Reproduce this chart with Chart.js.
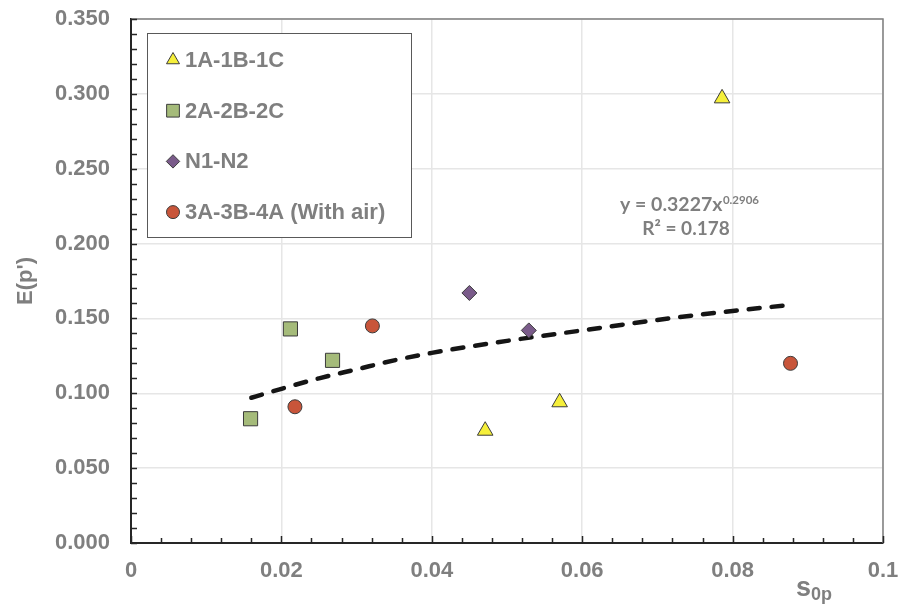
<!DOCTYPE html>
<html>
<head>
<meta charset="utf-8">
<script src="https://cdn.jsdelivr.net/npm/chart.js@4.4.1/dist/chart.umd.min.js"></script>
<style>
  html, body { margin: 0; padding: 0; background: #fff; }
  #wrap { width: 898px; height: 606px; }
</style>
</head>
<body>
<div id="wrap"><canvas id="chart"></canvas></div>
<script>
// values
const seriesNames = ['1A-1B-1C', '2A-2B-2C', 'N1-N2', '3A-3B-4A (With air)'];
const triX = [0.0786, 0.0471, 0.0570];
const triY = [0.297, 0.075, 0.094];
const sqX = [0.0159, 0.0212, 0.0268];
const sqY = [0.083, 0.143, 0.122];
const diaX = [0.0450, 0.0529];
const diaY = [0.167, 0.142];
const circX = [0.0218, 0.0321, 0.0877];
const circY = [0.091, 0.145, 0.120];
const trendX = [0.016, 0.018, 0.020, 0.025, 0.030, 0.035, 0.040, 0.050, 0.060, 0.070, 0.080, 0.0877];
const trendY = [0.097, 0.100, 0.103, 0.110, 0.116, 0.122, 0.127, 0.135, 0.142, 0.149, 0.155, 0.159];
const xTickLabels = ['0', '0.02', '0.04', '0.06', '0.08', '0.1'];
const yTickLabels = ['0.000', '0.050', '0.100', '0.150', '0.200', '0.250', '0.300', '0.350'];
const trendEquation = ['y = 0.3227x', '0.2906'];
const trendR2 = 'R\u00B2 = 0.178';
const yTitle = "E(p')";
const xTitle = ['s', '0p'];

const GREY = '#7f7f7f';
const FONT = "'Liberation Sans', Arial, sans-serif";
const EDGE = '#3c3c3c';

function pts(xs, ys) {
    return xs.map((x, i) => ({ x: x, y: ys[i] }));
}

const styles = [
    { pointStyle: 'triangle', color: '#f5ef3a', radius: 9, legendRadius: 7.5 },
    { pointStyle: 'rect', color: '#a5bb7a', radius: 10, legendRadius: 9 },
    { pointStyle: 'rectRot', color: '#7a5b8a', radius: 7.5, legendRadius: 6.7 },
    { pointStyle: 'circle', color: '#c8553a', radius: 7, legendRadius: 6.5 }
];
const seriesData = [pts(triX, triY), pts(sqX, sqY), pts(diaX, diaY), pts(circX, circY)];

// inward minor ticks, frame, legend box, trend label and x title
const decorations = {
    id: 'decorations',
    afterDatasetsDraw(chart) {
        const { ctx, chartArea: a, scales: { x, y } } = chart;
        ctx.save();
        ctx.strokeStyle = '#808080';
        ctx.lineWidth = 1.5;
        ctx.beginPath();
        ctx.moveTo(a.left, a.top);
        ctx.lineTo(a.right, a.top);
        ctx.lineTo(a.right, a.bottom);
        ctx.stroke();

        ctx.strokeStyle = '#262626';
        ctx.lineWidth = 1.5;
        ctx.beginPath();
        for (let i = 0; i <= 35; i++) {
            const py = Math.round(y.getPixelForValue(i * 0.01)) + 0.5;
            ctx.moveTo(a.left, py);
            ctx.lineTo(a.left + 6, py);
        }
        for (let i = 0; i <= 25; i++) {
            const px = Math.round(x.getPixelForValue(i * 0.004)) + 0.5;
            ctx.moveTo(px, a.bottom);
            ctx.lineTo(px, a.bottom - (i % 5 === 0 ? 7 : 5));
        }
        ctx.stroke();
        ctx.restore();
    },
    afterDraw(chart) {
        const { ctx } = chart;
        ctx.save();
        // legend box
        const box = { left: 147, top: 33, width: 264, height: 204 };
        ctx.fillStyle = '#fff';
        ctx.fillRect(box.left, box.top, box.width, box.height);
        ctx.strokeStyle = '#595959';
        ctx.lineWidth = 1;
        ctx.strokeRect(box.left + 0.5, box.top + 0.5, box.width, box.height);
        ctx.font = 'bold 22px ' + FONT;
        ctx.textBaseline = 'middle';
        ctx.textAlign = 'left';
        seriesNames.forEach((name, i) => {
            const cy = box.top + 27 + i * 50.7;
            const st = styles[i];
            ctx.fillStyle = st.color;
            ctx.strokeStyle = EDGE;
            ctx.lineWidth = 1;
            Chart.helpers.drawPoint(ctx, {
                pointStyle: st.pointStyle, rotation: 0, radius: st.legendRadius, borderWidth: 1
            }, 173, cy);
            ctx.fillStyle = GREY;
            ctx.fillText(name, 185, cy + 1);
        });

        // trend line equation
        ctx.fillStyle = GREY;
        ctx.textBaseline = 'alphabetic';
        ctx.font = 'bold 19.5px Lato, sans-serif';
        ctx.fillText(trendEquation[0], 620, 211);
        const w = ctx.measureText(trendEquation[0]).width;
        ctx.font = 'bold 11.5px Lato, sans-serif';
        ctx.fillText(trendEquation[1], 620 + w + 0.5, 204);
        ctx.font = 'bold 19px Lato, sans-serif';
        ctx.textAlign = 'center';
        ctx.fillText(trendR2, 686, 235);

        // x axis title with subscript
        ctx.textAlign = 'left';
        ctx.font = 'bold 27px ' + FONT;
        ctx.fillText(xTitle[0], 796, 596);
        const sw = ctx.measureText(xTitle[0]).width;
        ctx.font = 'bold 18px ' + FONT;
        ctx.fillText(xTitle[1], 796 + sw, 600);
        ctx.restore();
    }
};

const datasets = seriesNames.map((name, i) => ({
    label: name,
    data: seriesData[i],
    pointStyle: styles[i].pointStyle,
    pointRadius: styles[i].radius,
    pointHoverRadius: styles[i].radius,
    backgroundColor: styles[i].color,
    borderColor: EDGE,
    borderWidth: 1,
    showLine: false,
    order: 1
}));
datasets.push({
    label: 'Power trend',
    data: pts(trendX, trendY),
    showLine: true,
    pointRadius: 0,
    borderColor: '#151515',
    borderWidth: 4.5,
    borderDash: [11, 12],
    borderCapStyle: 'round',
    cubicInterpolationMode: 'monotone',
    fill: false,
    order: 10
});

new Chart(document.getElementById('chart'), {
    type: 'scatter',
    data: { datasets: datasets },
    plugins: [decorations],
    options: {
        responsive: true,
        maintainAspectRatio: false,
        animation: false,
        layout: { padding: { top: 19, right: 15, left: 0, bottom: 0 } },
        plugins: { legend: { display: false }, tooltip: { enabled: false } },
        scales: {
            x: {
                type: 'linear',
                min: 0,
                max: 0.1,
                afterFit(scale) {
                    scale.height = 63;
                    scale.paddingLeft = 0;
                    scale.paddingRight = 0;
                },
                grid: { color: '#e6e6e6', lineWidth: 1.5, drawTicks: false },
                border: { color: '#262626', width: 2 },
                ticks: {
                    stepSize: 0.02,
                    padding: 15,
                    color: GREY,
                    font: { family: FONT, size: 22, weight: 'bold' },
                    maxRotation: 0,
                    callback: (v, i) => xTickLabels[i]
                }
            },
            y: {
                type: 'linear',
                min: 0,
                max: 0.35,
                afterFit(scale) {
                    scale.width = 131;
                    scale.paddingTop = 0;
                    scale.paddingBottom = 0;
                },
                grid: { color: '#e6e6e6', lineWidth: 1.5, drawTicks: false },
                border: { color: '#262626', width: 2 },
                title: {
                    display: true,
                    text: yTitle,
                    color: GREY,
                    font: { family: FONT, size: 22, weight: 'bold' },
                    padding: { top: 13, bottom: 0 }
                },
                ticks: {
                    stepSize: 0.05,
                    padding: 21,
                    color: GREY,
                    font: { family: FONT, size: 22, weight: 'bold' },
                    callback: (v, i) => yTickLabels[i]
                }
            }
        }
    }
});
</script>
</body>
</html>
